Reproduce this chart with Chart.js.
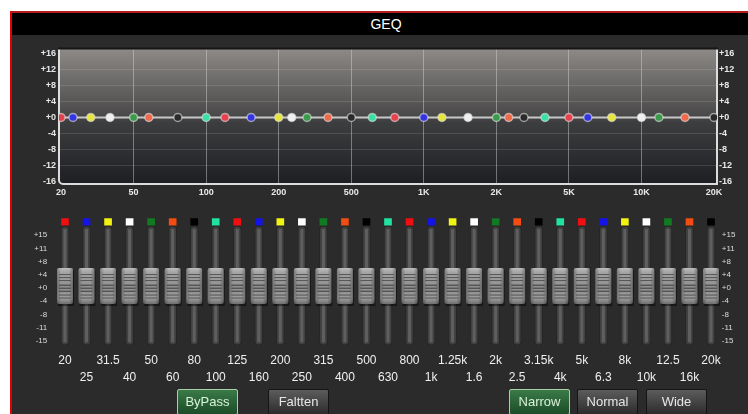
<!DOCTYPE html>
<html>
<head>
<meta charset="utf-8">
<script src="https://cdn.jsdelivr.net/npm/chart.js@4"></script>
<style>
  html, body { margin: 0; padding: 0; background: #fff; }
  #wrap { position: relative; width: 748px; height: 414px; overflow: hidden; background: #fff; font-family: 'Liberation Sans', Arial, sans-serif; }
  #panel { position: absolute; left: 10px; top: 11px; width: 740px; height: 410px; background: #2b2b2b; border-left: 2px solid #e00000; border-top: 2px solid #b51d1d; }
  #title { position: absolute; left: 0; top: 0; right: 0; height: 22px; background: #000; color: #fff; font-size: 14px; line-height: 22px; text-align: center; padding-left: 8px; }
  canvas { position: absolute; }
  #graph { left: 20px; top: 40px; }
  #sliders { left: 20px; top: 200px; }
  .btn { position: absolute; top: 389px; width: 59px; height: 24px; border-radius: 2px; font-size: 13px; line-height: 24px; text-align: center; color: #e6e6e6; }
  .on { background: linear-gradient(#3a7a47, #1c4c28); border: 1px solid #a8cfa8; color: #d8f2d8; }
  .off { background: linear-gradient(#5c5c5c, #2c2c2c); border: 1px solid #151515; }
</style>
</head>
<body>
<div id="wrap">
  <div id="panel"><div id="title">GEQ</div></div>
  <canvas id="graph" width="728" height="165"></canvas>
  <canvas id="sliders" width="728" height="190"></canvas>
  <div class="btn on" style="left:177px">ByPass</div>
  <div class="btn off" style="left:268px">Faltten</div>
  <div class="btn on" style="left:509px">Narrow</div>
  <div class="btn off" style="left:577px">Normal</div>
  <div class="btn off" style="left:646px">Wide</div>
</div>
<script>
// 31 bands, names as printed under the faders
const bandNames = ['20','25','31.5','40','50','60','80','100','125','160','200','250','315','400','500','630','800','1k','1.25k','1.6','2k','2.5','3.15k','4k','5k','6.3','8k','10k','12.5','16k','20k'];
// gain of each band in dB (all flat)
const gains = [0,0,0,0,0,0,0,0,0,0,0,0,0,0,0,0,0,0,0,0,0,0,0,0,0,0,0,0,0,0,0];
// where each band sits on the graph, in units of the graph's tick labels
const graphPos = [0,0.165,0.41,0.675,1,1.21,1.61,2,2.26,2.62,3,3.18,3.39,3.68,4,4.29,4.6,5,5.25,5.61,6,6.17,6.38,6.67,7,7.26,7.59,8,8.24,8.6,9];
const graphTicks = ['20','50','100','200','500','1K','2K','5K','10K','20K'];
const graphGainTicks = [16,12,8,4,0,-4,-8,-12,-16];
// fader scale marks, printed evenly spaced (bottom to top)
const faderTicks = [-15,-11,-8,-4,0,4,8,11,15];

const markColors = ['#ee1010','#1414e6','#f2f214','#ffffff','#127a22','#f24c12','#000000','#22e2a2'];
const dotColors = ['#e8404c','#3434e4','#e6e63c','#f0f0f0','#3c9a4c','#ee6a4a','#2a2a2a','#3ce0a4'];
const FONT = "'Liberation Sans', Arial, sans-serif";
// fader travel in scale steps (marks sit at -4..4)
const trackRange = [-4.32, 4.68];
const markRange = [4.75, 5.25];

const sign = v => (v >= 0 ? '+' : '') + v;
const mid = (faderTicks.length - 1) / 2;
// dB -> fader step, following the printed marks
function faderPos(db) {
  for (let i = 0; i < faderTicks.length - 1; i++) {
    const a = faderTicks[i], b = faderTicks[i + 1];
    if (db >= a && db <= b) return i - mid + (db - a) / (b - a);
  }
  return db < 0 ? -mid : mid;
}

const graphDeco = {
  id: 'graphDeco',
  beforeDraw(chart) {
    const { ctx, chartArea: a } = chart;
    const g = ctx.createLinearGradient(0, a.top, 0, a.bottom);
    g.addColorStop(0, '#8d8a87');
    g.addColorStop(0.48, '#4c4b4b');
    g.addColorStop(0.55, '#3c3d3f');
    g.addColorStop(1, '#1d1f22');
    ctx.save();
    ctx.fillStyle = g;
    ctx.fillRect(a.left, a.top, a.width, a.height);
    ctx.restore();
  },
  beforeDatasetsDraw(chart) {
    const { ctx, chartArea: a } = chart;
    const r = 4;
    ctx.save();
    ctx.lineWidth = 2;
    ctx.strokeStyle = '#dcdcdc';
    ctx.beginPath();
    ctx.moveTo(a.left, a.top);
    ctx.lineTo(a.left, a.bottom - r);
    ctx.arcTo(a.left, a.bottom, a.left + r, a.bottom, r);
    ctx.lineTo(a.right, a.bottom);
    ctx.lineTo(a.right, a.top);
    ctx.stroke();
    ctx.strokeStyle = '#161616';
    ctx.beginPath();
    ctx.moveTo(a.left - 1, a.top);
    ctx.lineTo(a.right + 1, a.top);
    ctx.stroke();
    ctx.restore();
  }
};

new Chart(document.getElementById('graph'), {
  type: 'line',
  data: {
    datasets: [{
      data: graphPos.map((p, i) => ({ x: p, y: gains[i] })),
      borderColor: '#c8c8c8',
      borderWidth: 2,
      pointRadius: 4,
      pointBackgroundColor: gains.map((g, i) => dotColors[i % 8]),
      pointBorderColor: 'rgba(225,225,225,0.6)',
      pointBorderWidth: 1.5,
      tension: 0
    }]
  },
  options: {
    responsive: false,
    animation: false,
    events: [],
    layout: { padding: { top: 8, left: 0, right: 0, bottom: 0 }, autoPadding: false },
    plugins: { legend: { display: false }, tooltip: { enabled: false } },
    scales: {
      x: {
        type: 'linear', min: -0.028, max: 9.041,
        afterBuildTicks: s => { s.ticks = graphTicks.map((t, i) => ({ value: i })); },
        afterFit: s => { s.height = 21; },
        ticks: { callback: (v, i) => graphTicks[i], color: '#e8e8e8', font: { family: FONT, size: 9, weight: 'bold' }, padding: 3.6, maxRotation: 0, autoSkip: false },
        grid: { color: c => (c.index === 0 || c.index === graphTicks.length - 1) ? 'rgba(0,0,0,0)' : 'rgba(215,215,215,0.45)', drawTicks: false },
        border: { display: false }
      },
      y: {
        position: 'left', min: -16.6, max: 17.2,
        afterBuildTicks: s => { s.ticks = graphGainTicks.map(v => ({ value: v })); },
        afterFit: s => { s.width = 39; },
        ticks: { callback: v => sign(v), color: '#e8e8e8', font: { family: FONT, size: 9, weight: 'bold' }, padding: 3 },
        grid: { color: c => Math.abs(c.tick.value) === 16 ? 'rgba(0,0,0,0)' : 'rgba(255,255,255,0.12)', drawTicks: false },
        border: { display: false }
      },
      y2: {
        position: 'right', min: -16.6, max: 17.2,
        afterBuildTicks: s => { s.ticks = graphGainTicks.map(v => ({ value: v })); },
        afterFit: s => { s.width = 31; },
        ticks: { callback: v => sign(v), color: '#e8e8e8', font: { family: FONT, size: 9, weight: 'bold' }, padding: 2 },
        grid: { display: false, drawTicks: false },
        border: { display: false }
      }
    }
  },
  plugins: [graphDeco]
});

const faderDeco = {
  id: 'faderDeco',
  afterDatasetsDraw(chart) {
    const ctx = chart.ctx;
    ctx.save();
    // shine down the middle of each track
    chart.getDatasetMeta(0).data.forEach(b => {
      const top = Math.min(b.y, b.base) + 3, bot = Math.max(b.y, b.base) - 3;
      ctx.fillStyle = 'rgba(120,120,120,0.55)';
      ctx.fillRect(b.x - 1.5, top, 3, bot - top);
    });
    // knobs
    chart.getDatasetMeta(2).data.forEach(p => {
      const w = 16, h = 36, x0 = p.x - w / 2, y0 = p.y - 20;
      ctx.fillStyle = 'rgba(0,0,0,0.45)';
      ctx.fillRect(x0 + 1, y0 + 2, w, h);
      const g = ctx.createLinearGradient(0, y0, 0, y0 + h);
      g.addColorStop(0, '#bdbdbd');
      g.addColorStop(0.12, '#a4a4a4');
      g.addColorStop(0.5, '#929292');
      g.addColorStop(0.85, '#9c9c9c');
      g.addColorStop(1, '#6e6e6e');
      ctx.fillStyle = g;
      ctx.beginPath();
      ctx.roundRect(x0, y0, w, h, 2);
      ctx.fill();
      const s = ctx.createLinearGradient(x0, 0, x0 + w, 0);
      s.addColorStop(0, 'rgba(0,0,0,0.28)');
      s.addColorStop(0.25, 'rgba(0,0,0,0)');
      s.addColorStop(0.75, 'rgba(0,0,0,0)');
      s.addColorStop(1, 'rgba(0,0,0,0.3)');
      ctx.fillStyle = s;
      ctx.fill();
      ctx.fillStyle = '#555';
      [6, 9, 12, 16.5, 19.5, 22.5, 26.5, 29.5].forEach((o, k) => {
        ctx.fillRect(x0 + 2, y0 + o, w - 4, (k >= 3 && k <= 5) ? 1.5 : 1);
      });
    });
    ctx.restore();
  }
};

const faderScale = (side, width, pad) => ({
  position: side, min: -4.676, max: 5.755,
  afterBuildTicks: s => { s.ticks = faderTicks.map((v, i) => ({ value: i - mid })); },
  afterFit: s => { s.width = width; },
  ticks: { callback: (v, i) => sign(faderTicks[i]), color: '#dcdcdc', font: { family: FONT, size: 8 }, padding: pad },
  grid: { display: false, drawTicks: false },
  border: { display: false }
});

new Chart(document.getElementById('sliders'), {
  type: 'bar',
  data: {
    labels: bandNames.map((n, i) => i % 2 === 0 ? [n, ''] : ['', n]),
    datasets: [
      { type: 'bar', data: bandNames.map(() => trackRange), backgroundColor: '#414141', borderColor: '#262626', borderWidth: 1, borderRadius: 4, borderSkipped: false, barThickness: 8, grouped: false },
      { type: 'bar', data: bandNames.map(() => markRange), backgroundColor: bandNames.map((n, i) => markColors[i % 8]), barThickness: 7, grouped: false },
      { type: 'line', data: gains.map(faderPos), showLine: false, pointRadius: 0 }
    ]
  },
  options: {
    responsive: false,
    animation: false,
    events: [],
    layout: { padding: { top: 5, left: 0, right: 0, bottom: 0 }, autoPadding: false },
    plugins: { legend: { display: false }, tooltip: { enabled: false } },
    scales: {
      x: {
        afterFit: s => { s.height = 40; },
        ticks: { color: '#f0f0f0', font: { family: FONT, size: 12, lineHeight: 1.42 }, padding: 2.5, maxRotation: 0, autoSkip: false },
        grid: { display: false, drawTicks: false },
        border: { display: false }
      },
      y: faderScale('left', 34.233, 7),
      y2: faderScale('right', 26.23, 0)
    }
  },
  plugins: [faderDeco]
});
</script>
</body>
</html>
